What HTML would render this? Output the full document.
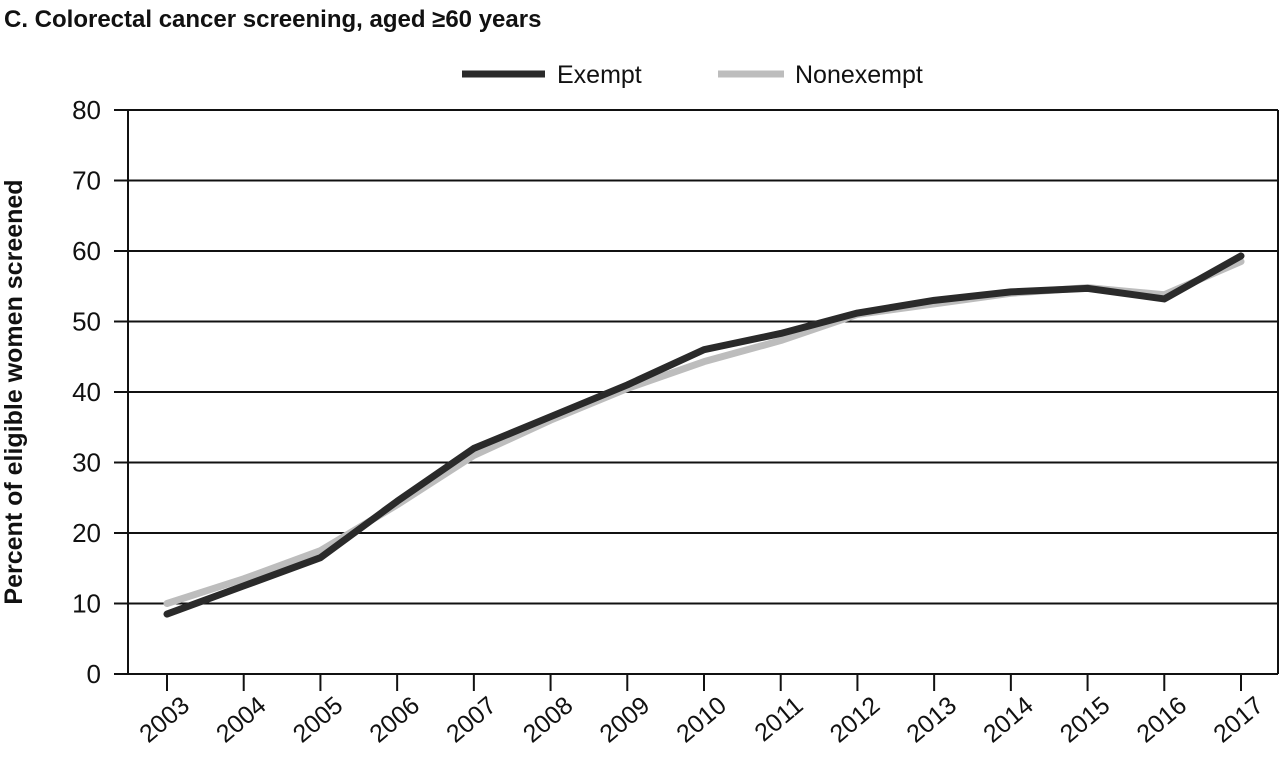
<!DOCTYPE html>
<html><head><meta charset="utf-8"><style>
html,body{margin:0;padding:0;background:#fff;}
svg{display:block;font-family:"Liberation Sans",sans-serif;}
</style></head><body>
<svg width="1280" height="765" id="chart">
<text x="4" y="27" font-size="24" font-weight="bold" fill="#111">C. Colorectal cancer screening, aged ≥60 years</text>
<g>
<line x1="462" y1="74" x2="545" y2="74" stroke="#2a2a2a" stroke-width="7"/>
<text x="557" y="83" font-size="25" fill="#111">Exempt</text>
<line x1="718" y1="74" x2="784" y2="74" stroke="#bdbdbd" stroke-width="7"/>
<text x="795" y="83" font-size="25" fill="#111">Nonexempt</text>
</g>
<text transform="translate(22,392) rotate(-90)" text-anchor="middle" font-size="25" font-weight="bold" fill="#111">Percent of eligible women screened</text>
<g id="grid"></g><g id="axes"></g><g id="series"></g>
</svg>
<script>
const years=[2003,2004,2005,2006,2007,2008,2009,2010,2011,2012,2013,2014,2015,2016,2017];
const exempt=[8.5,12.5,16.5,24.5,32,36.5,41,46,48.3,51.2,53,54.2,54.7,53.2,59.3];
const nonexempt=[10,13.5,17.5,24,31,36,40.5,44.3,47.3,51,52.5,54,54.8,53.8,58.5];
const yTicks=[0,10,20,30,40,50,60,70,80];
const NS="http://www.w3.org/2000/svg";
const L=128,R=1278,T=110,B=674,X0=167,X1=1241;
const xs=i=>X0+(X1-X0)*i/(years.length-1);
const ys=v=>B-(B-T)*v/80;
const grid=document.getElementById('grid'),axes=document.getElementById('axes'),ser=document.getElementById('series');
function mk(tag,attrs,parent){const e=document.createElementNS(NS,tag);for(const k in attrs)e.setAttribute(k,attrs[k]);parent.appendChild(e);return e;}
yTicks.forEach(v=>{
 const g=mk('line',{x1:L-14,x2:R,y1:ys(v),y2:ys(v),stroke:'#111','stroke-width':2},grid);
 
 
 const t=mk('text',{x:L-27,y:ys(v)+9,'text-anchor':'end','font-size':26,fill:'#111'},axes);
 t.textContent=v;
 
 
});
const ya=mk('line',{x1:L,x2:L,y1:T,y2:B,stroke:'#111','stroke-width':2},axes);


const ra=mk('line',{x1:R,x2:R,y1:T,y2:B,stroke:'#111','stroke-width':2},axes);


years.forEach((y,i)=>{
 const tk=mk('line',{x1:xs(i),x2:xs(i),y1:B,y2:B+17,stroke:'#111','stroke-width':2},axes);
 
 
 const t=mk('text',{transform:`translate(${xs(i)+24},${B+34}) rotate(-40)`,'text-anchor':'end','font-size':25,fill:'#111'},axes);
 t.textContent=y;
 
 
});
function line(data,color,name){
 const p=mk('polyline',{points:data.map((v,i)=>xs(i)+','+ys(v)).join(' '),fill:'none',stroke:color,'stroke-width':7,'stroke-linejoin':'round','stroke-linecap':'round'},ser);
 
 
}
line(nonexempt,'#bdbdbd','line-nonexempt');
line(exempt,'#2a2a2a','line-exempt');
</script>
</body></html>
